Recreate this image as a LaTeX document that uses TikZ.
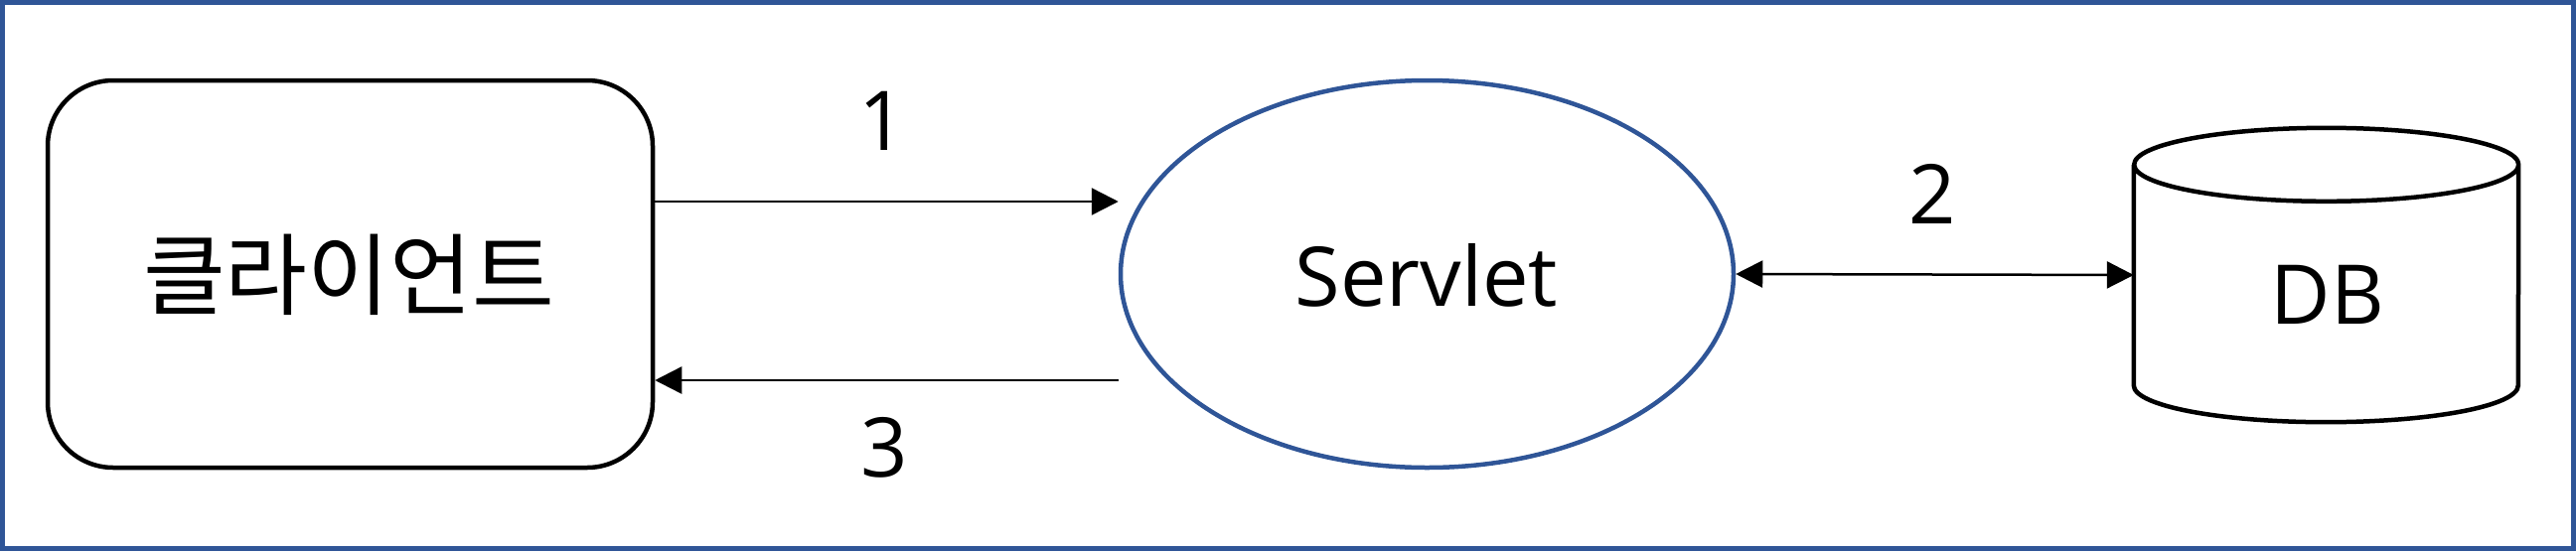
\documentclass[tikz,border=0pt]{standalone}
\usepackage{fontspec}
\setmainfont{Open Sans}
\newfontfamily\krfont{Noto Sans CJK KR}
\usetikzlibrary{shapes.geometric,arrows.meta}
\definecolor{frameblue}{RGB}{47,85,151}
\tikzset{
  boxline/.style={draw=black, line width=4.5pt},
  dbline/.style={draw=black, line width=4.5pt},
  arr/.style={draw=black, line width=2.5pt, -{Triangle[length=27pt,width=27pt]}},
  darr/.style={draw=black, line width=2.5pt, {Triangle[length=27pt,width=27pt]}-{Triangle[length=27pt,width=27pt]}},
  lbl/.style={anchor=base, inner sep=0pt, font=\fontsize{83}{90}\selectfont},
}
\begin{document}
\begin{tikzpicture}[x=1pt,y=-1pt]
\useasboundingbox (0,0) rectangle (2593,555);
\fill[white] (0,0) rectangle (2593,555);
\draw[frameblue, line width=5pt] (2.5,2.5) rectangle (2590.5,552.5);
% client
\node[boxline, rounded corners=66pt, minimum width=609pt, minimum height=390pt, inner sep=0pt] (client) at (352.5,276) {};
\node[inner sep=0pt, font=\krfont\fontsize{90}{100}\selectfont] (clienttxt) at (351,277) {클라이언트};
% servlet
\node[ellipse, draw=frameblue, line width=4.5pt, minimum width=617pt, minimum height=390pt, inner sep=0pt] (servlet) at (1436.5,276) {};
\node[lbl] (servlettxt) at (1436,308) {Servlet};
% db
\node[minimum width=387pt, minimum height=296pt, inner sep=0pt] (db) at (2341.5,277) {};
\draw[dbline, fill=white, line join=round] ([yshift=-37pt]db.north west) -- ([yshift=37pt]db.south west)
  arc[start angle=180, end angle=360, x radius=193.5pt, y radius=37pt] -- ([yshift=-37pt]db.north east)
  arc[start angle=0, end angle=-180, x radius=193.5pt, y radius=37pt]
  arc[start angle=180, end angle=0, x radius=193.5pt, y radius=37pt];
\node[lbl] (dbtxt) at (2343,326) {DB};
% arrows
\coordinate (y1) at (0,203);
\coordinate (y3) at (0,383);
\draw[arr] (client.east |- y1) -- (servlet.west |- y1);
\draw[arr] (servlet.west |- y3) -- (client.east |- y3);
\draw[darr] (servlet.east) -- (db.west);
% labels
\node[lbl] (l1) at (888,151) {1};
\node[lbl] (l3) at (890,480) {3};
\node[lbl] (l2) at (1945,225) {2};
\end{tikzpicture}
\end{document}
